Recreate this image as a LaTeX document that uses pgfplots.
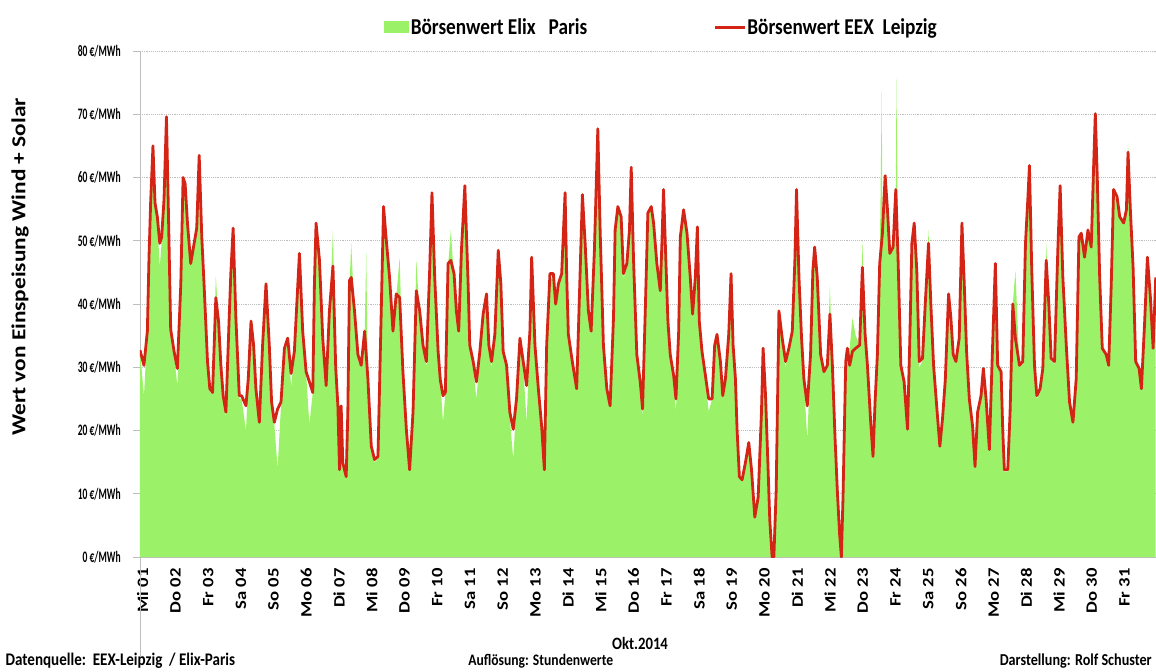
\documentclass[border=0pt]{standalone}
\usepackage{fontspec}
\setmainfont{Carlito}[FakeStretch=0.85]
\newfontfamily\rotfont{Carlito}
\usepackage{graphicx}
\usepackage{pgfplots}
\pgfplotsset{compat=1.18}
\usepackage{pgfplotstable}
\definecolor{elix}{RGB}{155,242,105}
\definecolor{eex}{RGB}{212,36,22}
\definecolor{gridc}{RGB}{190,190,190}
\definecolor{axc}{RGB}{190,190,190}
\newcommand\sq[1]{\scalebox{1}[0.85]{#1}}
\newcommand\yq[1]{\scalebox{0.7}[1]{#1}}

\pgfplotstableread{
h eex elix
0 32.7 32.7
2.9 30.3 25.5
5.4 35.7 35.7
6.6 47.4 47.4
7.8 56 56
9.5 65 63
11.0 56 55
12.7 53.8 53
14.5 49.6 45.8
15.9 50.6 50
17.6 56.5 56
19.4 69.6 67
20.8 55 54
22.5 36 35
25.0 32.5 32
27.4 29.8 27
29.9 43 43
31.6 60 58
33.1 59 57
34.8 52.8 52
37.2 46.4 46
39.7 49.6 49
41.6 52 51
43.4 63.5 60
45.3 50.6 50
47.0 43 42
49.5 30.9 30
51.2 26.6 26
53.2 26 26
55.6 41 44.5
57.6 37.3 37
59.3 30.3 30
61.0 25.5 25
63.0 22.9 22
65.4 37.8 37
66.6 44.8 44
68.3 52 50
70.3 37.8 37
72.8 25.5 25
74.5 25.5 25
77.7 23.9 20
79.4 28.2 28
81.4 37.3 37
83.3 33.5 33
85.0 26.6 26
87.5 21.3 21
89.9 33.5 33
92.4 43.2 42
94.8 33.5 33
96.5 24.5 24
98.5 21.3 21
100.9 23.4 14
103.4 24.5 24
105.9 33 32
108.3 34.6 34
110.8 29 27
113.2 32.5 32
116.9 48 47
119.3 35.7 35
121.8 29.3 29
124.2 27.7 21
126.7 26 26
127.9 43.2 43
129.1 52.8 51
131.6 46.9 46
134.0 34.6 34
136.5 27.1 27
138.9 38.9 38
141.5 46 51.7
143.5 30 30
145.1 23.9 23
146.3 13.8 13
147.5 23.9 23
148.7 14.9 14
151.2 12.7 12.5
152.4 22.9 22
153.6 43.7 43
154.9 44.2 49.6
157.3 38.9 38
159.8 32 31
162.2 30.3 30
164.7 35.7 35
165.9 nan 48
167.1 28.2 28
169.6 17.5 17
172.0 15.4 15
174.5 15.9 15.5
176.9 38.9 38
178.6 55.4 54
180.6 50.1 50
183.0 44.2 44
185.5 35.7 35
187.9 41.6 41
190.4 41 47.4
192.8 29.3 29
195.3 20.2 20
197.7 13.8 13.5
200.2 22.9 22
202.6 42.1 47
205.1 38.9 38
207.5 33.5 33
210.0 30.9 30
212.4 45.3 45
214.1 57.6 56
216.1 44.2 44
218.6 32.5 32
220.2 28 28
222.2 25.5 21.3
223.9 26 26
225.9 46.4 46
227.9 46.9 51.7
230.3 44.8 44
232.0 38.9 38
233.7 35.7 35
235.7 48.5 48
238.2 58.7 57
240.6 43.2 43
241.8 33.5 33
244.3 30.9 30
246.7 27.7 25
249.2 32.5 32
251.6 38.4 38
254.1 41.6 41
255.8 33.5 33
257.8 30.9 30
260.2 35.2 35
262.7 48.5 48
264.6 43.2 43
266.3 32.5 32
268.8 30.3 30
271.2 22.9 22
273.7 20.2 15.4
276.1 25 25
278.6 34.6 34
281.0 30.9 30
283.5 27.1 21.3
285.9 35.7 35
287.2 47.4 46
289.6 33.5 33
292.1 26.6 26
294.5 20.7 20
296.5 13.8 13.5
298.2 33.5 33
300.6 44.8 44
303.1 44.8 44
304.8 40 40
306.8 43.2 43
309.2 44.8 44
311.7 57.6 56
312.9 44.2 44
314.1 35.2 35
317.0 30.9 30
320.2 26.6 26
321.9 38.9 38
324.4 57.3 56
326.4 49.6 49
328.8 38.9 38
330.8 35.7 35
333.2 48.5 48
334.4 57.6 57
335.7 67.7 65
337.4 51.7 51
339.8 33.5 33
342.3 26.6 26
344.7 23.9 23.5
347.2 37.8 37
348.4 51.7 51
350.4 55.4 55
352.8 53.8 53
354.5 44.8 44
357.0 46.4 46
358.9 51.7 51
360.2 61.6 59
361.9 46.9 46
364.3 32 32
366.8 27.7 27
368.5 23.4 22
370.5 38.9 38
372.4 54.4 54
374.9 55.4 55
376.6 52.8 52
379.0 46.4 46
381.5 42.1 42
382.7 49.6 49
383.9 58.1 56
385.6 46.9 46
387.1 37.3 37
388.8 32 32
391.3 28.7 28
393.0 25 23
395.0 35.7 35
396.2 50.6 50
398.6 54.9 54
401.1 51.2 51
403.5 44.2 44
405.2 38.4 38
407.2 44.2 44
408.7 52.2 51
410.1 37.3 37
412.1 32.5 32
414.6 28.7 28
417.0 25 23
419.5 25 25
421.4 33.5 33
423.1 35.2 35
425.6 30.9 30
427.3 25.5 25
429.3 28.2 28
431.7 35.2 35
433.4 44.8 44
434.9 33.5 33
436.6 28.2 28
437.8 20.2 20
439.5 12.7 12.5
441.5 12.2 12
443.9 14.9 14.5
446.4 18.1 18
448.4 13.8 13.5
450.8 6.3 6
453.3 9.5 9.5
455.7 22.9 22
456.9 33 32
458.7 25.5 25
460.4 14.9 14.5
461.8 5.8 5.5
463.5 0 0
464.8 0 0
466.5 10.6 10.5
468.5 38.9 38
470.9 34.6 34
473.4 30.9 30
475.8 33 33
478.3 35.7 35
480.2 46.9 46
481.4 58.1 56
483.2 44.2 44
485.1 34.6 34
486.8 28.2 28
489.3 23.9 18.5
491.7 32 32
493.4 45.3 45
494.7 49 48
496.6 44.2 44
499.1 32 32
501.5 29.3 29
504.0 30.3 30
505.9 38.4 43
507.7 30.3 30
509.6 19.1 19
511.3 10.6 10.5
513.0 3.6 3.5
514.3 0 0
515.5 9.5 9.5
517.5 30.9 30.5
518.7 33 33
520.4 30.3 33
522.4 32.5 37.8
524.8 33 35
527.7 33.5 33.5
529.7 45.8 50
531.7 35.2 35
533.4 30.3 30
535.8 21.3 21
537.5 15.9 15.5
539.0 24.5 24
540.7 32 32
542.4 46.4 46
543.9 nan 73.6
544.4 51.2 51
546.4 60.3 59
548.1 54.9 54
549.8 48 48
552.2 49 49
554.2 58.1 57
554.7 nan 75.7
555.9 46.9 46
557.9 30.3 30
560.3 27.7 27
562.8 20.2 20
564.5 34.6 34
566.0 49.6 49
567.7 52.8 52
569.6 45.3 45
571.4 30.9 30
573.8 31.4 31
575.8 40 40
578.2 49.6 51.7
579.9 40 40
581.9 30.3 30
584.5 23 23
586.5 17.5 17
588.5 22 22
590.5 28 28
592.9 41.6 41
594.6 37.8 37.5
596.3 32 32
598.3 30.9 30.5
600.7 34.6 34.5
602.7 52.8 52
604.4 43.2 43
606.1 32.5 32
608.1 25 25
610.5 20.7 20.5
612.3 14.3 14
614.2 22.9 22.5
616.7 25.5 25
618.4 29.8 29.5
620.4 25 25
622.8 17 16.5
624.8 30.9 30.5
627.2 46.4 45
628.9 30.3 30
631.4 29.3 29
632.6 20.2 20
633.8 13.8 13.5
636.3 13.8 13.5
638.0 22.9 22.5
640.0 40 40
641.9 34.6 45.3
644.9 30.3 30
647.3 30.9 30.5
649.3 49.6 49
651.0 56.5 56
652.2 61.9 60
653.9 45.3 45
655.9 30.3 30
657.6 25.5 25
660.0 26.6 26
662.0 29.8 29.5
664.5 46.9 49.6
666.4 40 40
668.1 31.4 31
670.6 30.9 30.5
673.0 48.5 48
674.7 58.7 57
676.7 44.2 44
679.2 33.5 33
681.6 24.5 24
684.1 21.3 21
686.5 28.2 28
688.5 50.6 50
690.2 51.2 51
692.6 47.4 47
695.1 51.7 51
697.5 49 49
699.2 61.3 60
700.5 70.1 68
701.9 60.3 59
703.7 44.2 44
705.6 33 33
708.5 32 32
710.3 30.3 30
712.2 43.2 43
713.9 58.1 57
716.4 57 56.5
718.4 53.8 53.5
721.3 52.8 52.5
723.3 54.9 54.5
724.5 64 65.5
726.2 54.9 54.5
728.2 45.8 45.5
730.1 30.9 30.5
732.6 29.8 29.5
734.3 26.6 26
736.7 37.3 37
738.7 47.4 47
740.9 41 41
742.9 33 32.5
744.8 44.2 44
}\data

\begin{document}
\begin{tikzpicture}
\useasboundingbox (-105pt,-85.5pt) rectangle (762pt,417.75pt);
\begin{axis}[
  at={(0,0)}, anchor=south west,
  scale only axis, width=762pt, height=379.5pt,
  xmin=0, xmax=745, ymin=0, ymax=80,
  axis x line*=bottom, axis y line*=left,
  axis line style={draw=axc, line width=0.7pt, -},
  ytick={0,10,...,80},
  yticklabels={\yq{0 €/MWh},\yq{10 €/MWh},\yq{20 €/MWh},\yq{30 €/MWh},\yq{40 €/MWh},\yq{50 €/MWh},\yq{60 €/MWh},\yq{70 €/MWh},\yq{80 €/MWh}},
  yticklabel style={font=\bfseries\fontsize{12}{13}\selectfont, xshift=-6pt},
  ytick style={draw=axc, line width=0.7pt},
  tick align=outside, major tick length=5pt,
  ymajorgrids, grid style={gridc, densely dotted, line width=0.7pt},
  xtick={0,24,...,720},
  xticklabels={\sq{Mi 01},\sq{Do 02},\sq{Fr 03},\sq{Sa 04},\sq{So 05},\sq{Mo 06},\sq{Di 07},\sq{Mi 08},\sq{Do 09},\sq{Fr 10},\sq{Sa 11},\sq{So 12},\sq{Mo 13},\sq{Di 14},\sq{Mi 15},\sq{Do 16},\sq{Fr 17},\sq{Sa 18},\sq{So 19},\sq{Mo 20},\sq{Di 21},\sq{Mi 22},\sq{Do 23},\sq{Fr 24},\sq{Sa 25},\sq{So 26},\sq{Mo 27},\sq{Di 28},\sq{Mi 29},\sq{Do 30},\sq{Fr 31}},
  xticklabel style={rotate=90, anchor=east, font=\rotfont\bfseries\fontsize{14}{14}\selectfont, yshift=-2pt},
  xtick style={draw=none},
  legend columns=2,
  legend style={at={(0.240,1.047)}, anchor=west, draw=none, fill=none,
    font=\bfseries\fontsize{17}{17}\selectfont, inner sep=0pt,
    nodes={inner sep=1pt},
    /tikz/every even column/.append style={column sep=94pt}},
]
\addplot[draw=none, fill=elix,
  legend image code/.code={\fill[elix] (0pt,-4.5pt) rectangle (19pt,4.5pt);}]
  table[x=h, y=elix]{\data} \closedcycle;
\addlegendentry{Börsenwert Elix\ \ \ Paris}
\addplot[eex, line width=2.1pt, line join=round, unbounded coords=discard,
  legend image code/.code={\draw[eex, line width=2pt] (0pt,0pt) -- (22pt,0pt);}]
  table[x=h, y=eex]{\data};
\addlegendentry{Börsenwert EEX\ \ Leipzig}
\end{axis}
\draw[axc, line width=0.7pt] (0,0) -- (0,-75pt);
\node[rotate=90, font=\rotfont\bfseries\fontsize{17.5}{18}\selectfont] at (-90pt,217.5pt) {\sq{Wert von Einspeisung Wind + Solar}};
\node[font=\bfseries\fontsize{13}{14}\selectfont] at (375pt,-65pt) {Okt.2014};
\node[anchor=west, font=\bfseries\fontsize{13.3}{14}\selectfont, inner sep=0pt] at (-101pt,-78pt) {Datenquelle:\ \ EEX-Leipzig\ \ / Elix-Paris};
\node[anchor=west, font=\bfseries\fontsize{12}{14}\selectfont, inner sep=0pt] at (246pt,-78pt) {Auflösung: Stundenwerte};
\node[anchor=east, font=\bfseries\fontsize{12.5}{14}\selectfont, inner sep=0pt] at (759pt,-78pt) {Darstellung: Rolf Schuster};
\end{tikzpicture}
\end{document}
